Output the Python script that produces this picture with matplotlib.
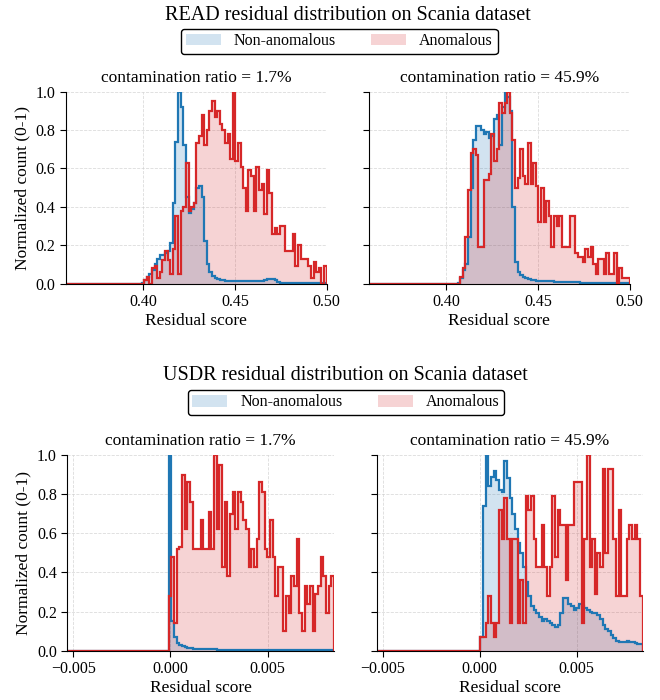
import matplotlib
matplotlib.use("Agg")
import matplotlib.pyplot as plt
import numpy as np
from matplotlib.patches import Patch

plt.rcParams['font.family'] = 'Liberation Serif'
plt.rcParams['axes.unicode_minus'] = True

# histogram bin ranges (100 bins each)
read_range = (0.358, 0.500)
usdr_range = (-0.0053, 0.0084)
n_bins = 100

# READ, contamination 1.7%
read_normal_17 = [0.0] * 28 + [
    0.0, 0.005, 0.02, 0.035, 0.05, 0.07, 0.10, 0.13, 0.15, 0.15,
    0.16, 0.17, 0.21, 0.42, 0.74, 1.0, 0.92, 0.72, 0.45, 0.37,
    0.39, 0.42, 0.50, 0.51, 0.45, 0.22, 0.10, 0.06, 0.04, 0.03,
    0.025, 0.02, 0.02, 0.015, 0.015, 0.015, 0.015, 0.015, 0.015, 0.015,
    0.015, 0.015, 0.015, 0.015, 0.015, 0.015, 0.015, 0.015, 0.018, 0.022,
    0.026, 0.025, 0.018, 0.01, 0.005, 0.005, 0.005, 0.005, 0.005, 0.005,
    0.005, 0.005, 0.005, 0.005, 0.005, 0.005, 0.005, 0.005, 0.005, 0.005,
    0.005, 0.005]
read_anom_17 = [0.0] * 30 + [
    0.02, 0.035, 0.0, 0.08, 0.09, 0.03, 0.06, 0.12, 0.17, 0.12,
    0.05, 0.18, 0.35, 0.05, 0.38, 0.40, 0.63, 0.38, 0.40, 0.42,
    0.73, 0.77, 0.88, 0.72, 0.80, 0.90, 0.95, 0.87, 0.90, 0.83,
    0.80, 0.73, 0.78, 0.65, 1.0, 0.64, 0.73, 0.61, 0.50, 0.38,
    0.59, 0.56, 0.38, 0.61, 0.49, 0.52, 0.36, 0.59, 0.47, 0.26,
    0.29, 0.26, 0.30, 0.30, 0.17, 0.17, 0.17, 0.26, 0.09, 0.20,
    0.13, 0.13, 0.13, 0.09, 0.03, 0.11, 0.06, 0.08, 0.0, 0.09]

# READ, contamination 45.9%
read_normal_459 = [0.0] * 34 + [
    0.005, 0.03, 0.07, 0.10, 0.24, 0.50, 0.75, 0.82, 0.82, 0.80,
    0.78, 0.79, 0.76, 0.77, 0.86, 0.88, 0.72, 0.92, 1.0, 0.97,
    0.90, 0.40, 0.11, 0.06, 0.045, 0.035, 0.03, 0.025, 0.02, 0.018,
    0.015, 0.012, 0.012, 0.012, 0.012, 0.012, 0.012, 0.008, 0.008, 0.008,
    0.008, 0.008, 0.008, 0.008, 0.008, 0.008, 0.008, 0.005, 0.005, 0.005,
    0.005, 0.005, 0.005, 0.005, 0.005, 0.005, 0.005, 0.005, 0.005, 0.005,
    0.005, 0.005, 0.005, 0.005, 0.005, 0.005]
read_anom_459 = [0.0] * 35 + [
    0.035, 0.08, 0.24, 0.49, 0.68, 0.70, 0.67, 0.19, 0.19, 0.54,
    0.54, 0.57, 0.78, 0.64, 0.70, 0.94, 0.89, 0.94, 1.0, 0.89,
    0.75, 0.50, 0.55, 0.70, 0.56, 0.52, 0.73, 0.52, 0.63, 0.51,
    0.32, 0.50, 0.32, 0.43, 0.35, 0.19, 0.35, 0.30, 0.35, 0.19,
    0.19, 0.19, 0.35, 0.35, 0.16, 0.14, 0.14, 0.11, 0.18, 0.14,
    0.19, 0.10, 0.05, 0.13, 0.13, 0.05, 0.16, 0.05, 0.05, 0.16,
    0.0, 0.08, 0.03, 0.03, 0.03]

# USDR, contamination 1.7%
usdr_normal_17 = [0.0] * 38 + [
    1.0, 0.15, 0.07, 0.04, 0.03, 0.025, 0.02, 0.015, 0.012, 0.01,
    0.008, 0.008, 0.008, 0.008, 0.008, 0.008, 0.008, 0.008, 0.005, 0.005,
    0.005, 0.005, 0.005, 0.005, 0.005, 0.005, 0.005, 0.005, 0.005, 0.005,
    0.005, 0.005, 0.005, 0.003, 0.003, 0.003, 0.003, 0.003, 0.003, 0.003,
    0.003, 0.003, 0.003, 0.003, 0.003, 0.003, 0.003, 0.003, 0.003, 0.003,
    0.003, 0.003, 0.003, 0.003, 0.003, 0.003, 0.003, 0.003, 0.003, 0.003,
    0.003, 0.003]
usdr_anom_17 = [0.0] * 38 + [
    0.28, 0.48, 0.14, 0.52, 0.53, 0.90, 0.62, 0.86, 0.76, 0.52,
    0.52, 0.52, 0.67, 0.52, 0.52, 0.71, 0.52, 1.0, 0.62, 0.95,
    0.43, 0.76, 0.38, 0.70, 0.81, 0.62, 0.81, 0.76, 0.67, 0.62,
    0.43, 0.52, 0.43, 0.57, 0.86, 0.81, 0.52, 0.48, 0.67, 0.48,
    0.28, 0.43, 0.43, 0.10, 0.28, 0.19, 0.38, 0.33, 0.57, 0.19,
    0.10, 0.33, 0.24, 0.33, 0.10, 0.29, 0.33, 0.48, 0.38, 0.19,
    0.33, 0.38]

# USDR, contamination 45.9%
usdr_normal_459 = [0.0] * 39 + [
    0.07, 0.74, 1.0, 0.84, 0.89, 0.92, 0.87, 0.82, 0.81, 0.97,
    0.88, 0.78, 0.70, 0.62, 0.55, 0.50, 0.43, 0.35, 0.28, 0.23,
    0.21, 0.19, 0.17, 0.15, 0.16, 0.15, 0.14, 0.13, 0.12, 0.13,
    0.19, 0.27, 0.27, 0.24, 0.23, 0.21, 0.22, 0.24, 0.23, 0.22,
    0.21, 0.20, 0.19, 0.19, 0.18, 0.16, 0.13, 0.11, 0.10, 0.08,
    0.065, 0.05, 0.045, 0.045, 0.045, 0.05, 0.045, 0.045, 0.04, 0.035,
    0.035]
usdr_anom_459 = [0.0] * 39 + [
    0.07, 0.07, 0.14, 0.28, 0.14, 0.07, 0.14, 0.72, 0.57, 0.78,
    0.57, 0.14, 0.57, 0.57, 0.14, 0.36, 0.14, 0.79, 0.72, 0.79,
    0.57, 0.43, 0.43, 0.64, 0.43, 0.28, 0.43, 0.79, 0.48, 0.72,
    0.64, 0.64, 0.36, 0.64, 0.64, 0.86, 0.86, 0.86, 0.14, 0.57,
    1.0, 0.43, 0.57, 0.29, 0.50, 0.43, 0.93, 0.50, 0.93, 0.93,
    0.57, 0.28, 0.72, 0.28, 0.28, 0.57, 0.64, 0.57, 0.64, 0.57,
    0.28]

ratios = ["1.7%", "45.9%"]
BLUE = '#1f77b4'
RED = '#d62728'


def draw_hist(ax, normal, anom, edges):
    ax.stairs(normal, edges, fill=True, color=BLUE, alpha=0.2, lw=0)
    ax.stairs(anom, edges, fill=True, color=RED, alpha=0.2, lw=0)
    ax.stairs(normal, edges, color=BLUE, lw=1.6)
    ax.stairs(anom, edges, color=RED, lw=1.6)


def style_axes(ax, ratio, show_ylabel):
    ax.set_title(f"contamination ratio = {ratio}", fontsize=12.5, pad=7)
    ax.set_ylim(0, 1.0)
    ax.set_yticks([0.0, 0.2, 0.4, 0.6, 0.8, 1.0])
    ax.set_xlabel("Residual score", fontsize=12.5, labelpad=2)
    ax.grid(True, linestyle='--', linewidth=0.6, color='#cccccc', alpha=0.7)
    ax.set_axisbelow(True)
    ax.spines['top'].set_visible(False)
    ax.spines['right'].set_visible(False)
    ax.tick_params(labelsize=11.5, length=4)
    if show_ylabel:
        ax.set_ylabel("Normalized count (0-1)", fontsize=12.5)
    else:
        ax.tick_params(labelleft=False)


fig = plt.figure(figsize=(6.6, 7.0), dpi=100)

read_edges = np.linspace(read_range[0], read_range[1], n_bins + 1)
usdr_edges = np.linspace(usdr_range[0], usdr_range[1], n_bins + 1)

top_axes = [fig.add_axes([0.100, 0.595, 0.395, 0.274]),
            fig.add_axes([0.559, 0.595, 0.395, 0.274])]
bot_axes = [fig.add_axes([0.102, 0.0705, 0.404, 0.2795]),
            fig.add_axes([0.5708, 0.0705, 0.403, 0.2795])]

read_data = [(read_normal_17, read_anom_17), (read_normal_459, read_anom_459)]
usdr_data = [(usdr_normal_17, usdr_anom_17), (usdr_normal_459, usdr_anom_459)]

for i, ax in enumerate(top_axes):
    draw_hist(ax, read_data[i][0], read_data[i][1], read_edges)
    ax.set_xlim(read_range)
    ax.set_xticks([0.40, 0.45, 0.50])
    ax.set_xticklabels(["0.40", "0.45", "0.50"])
    style_axes(ax, ratios[i], i == 0)

for i, ax in enumerate(bot_axes):
    draw_hist(ax, usdr_data[i][0], usdr_data[i][1], usdr_edges)
    ax.set_xlim(usdr_range)
    ax.set_xticks([-0.005, 0.0, 0.005])
    ax.set_xticklabels(["\u22120.005", "0.000", "0.005"])
    style_axes(ax, ratios[i], i == 0)

handles = [Patch(facecolor=BLUE, alpha=0.2, label="Non-anomalous"),
           Patch(facecolor=RED, alpha=0.2, label="Anomalous")]

fig.text(0.527, 0.978, "READ residual distribution on Scania dataset",
         ha='center', va='center', fontsize=14.5)
leg1 = fig.legend(handles=handles, loc='center', bbox_to_anchor=(0.514, 0.941),
                  ncol=2, fontsize=11.5, frameon=True, edgecolor='black',
                  framealpha=1, borderpad=0.3, handlelength=2.2, columnspacing=2.2)
leg1.get_frame().set_linewidth(1.0)

fig.text(0.523, 0.463, "USDR residual distribution on Scania dataset",
         ha='center', va='center', fontsize=14.5)
leg2 = fig.legend(handles=handles, loc='center', bbox_to_anchor=(0.524, 0.425),
                  ncol=2, fontsize=11.5, frameon=True, edgecolor='black',
                  framealpha=1, borderpad=0.3, handlelength=2.2, columnspacing=2.2)
leg2.get_frame().set_linewidth(1.0)

fig.savefig("out.png", dpi=100)
